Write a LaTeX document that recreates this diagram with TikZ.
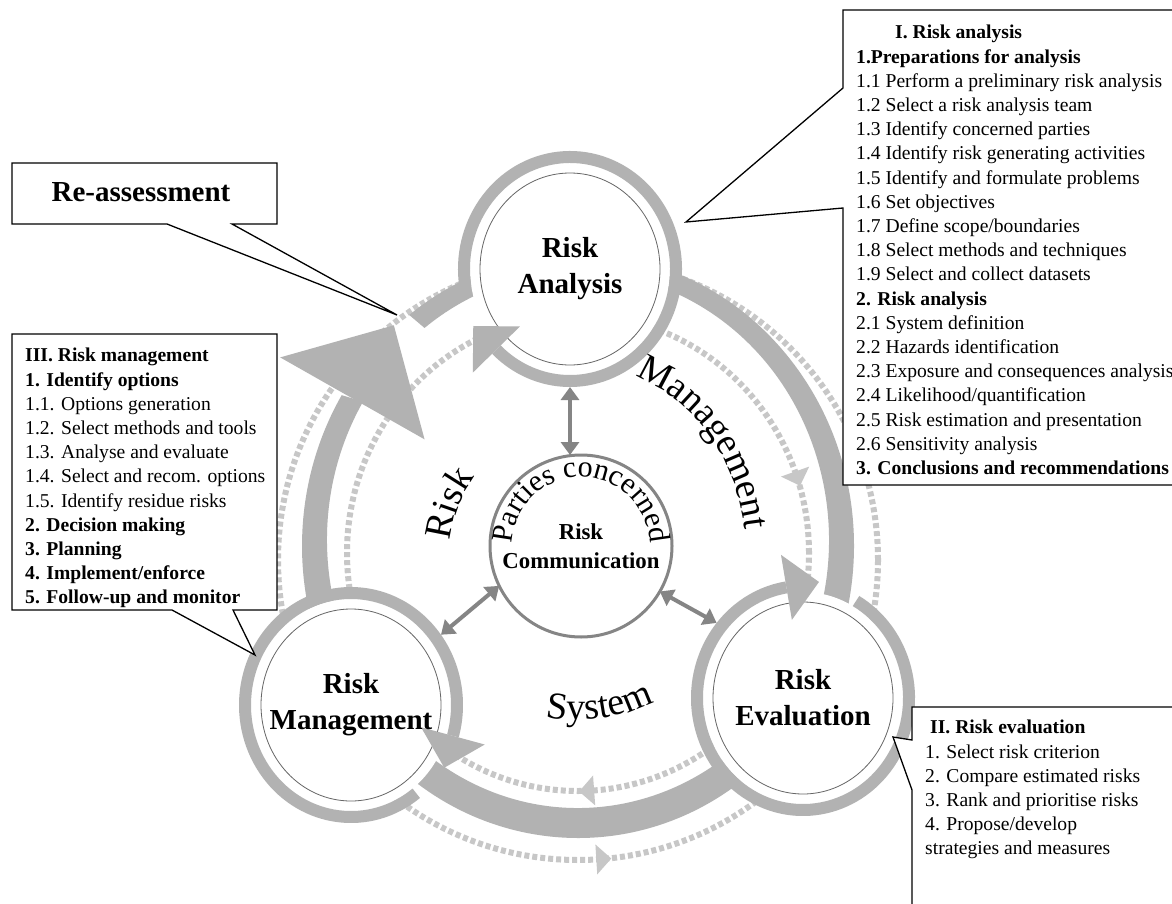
\documentclass[tikz,border=0pt]{standalone}
\usepackage{fontspec}
\setmainfont{Liberation Serif}
\usetikzlibrary{arrows.meta,calc,decorations.text,shapes.geometric}

\definecolor{bandgray}{gray}{0.70}
\definecolor{dotgray}{gray}{0.78}
\definecolor{arrgray}{gray}{0.52}
\definecolor{thingray}{gray}{0.40}

% arrowhead on an ellipse: cx cy rx ry angle dir halfbase length colour
\newcommand\ahead[9]{%
  \pgfmathsetmacro\AHx{#1+(#3)*cos(#5)}%
  \pgfmathsetmacro\AHy{#2+(#4)*sin(#5)}%
  \pgfmathsetmacro\AHtx{-(#6)*(#3)/100*sin(#5)}%
  \pgfmathsetmacro\AHty{(#6)*(#4)/100*cos(#5)}%
  \pgfmathsetmacro\AHn{sqrt((\AHtx)*(\AHtx)+(\AHty)*(\AHty))}%
  \pgfmathsetmacro\AHux{(\AHtx)/(\AHn)}%
  \pgfmathsetmacro\AHuy{(\AHty)/(\AHn)}%
  \fill[#9] ({\AHx-(#7)*(\AHuy)},{\AHy+(#7)*(\AHux)}) -- ({\AHx+(#7)*(\AHuy)},{\AHy-(#7)*(\AHux)}) -- ({\AHx+(#8)*(\AHux)},{\AHy+(#8)*(\AHuy)}) -- cycle;
}
% ring of a stage: cx cy start end
\newcommand\stagering[4]{%
  \fill[white] (#1,#2) ellipse[x radius=100, y radius=106];
  \draw[thingray, line width=0.8pt] (#1,#2) ellipse[x radius=90, y radius=96];
  \draw[bandgray, line width=12pt] ($(#1,#2)+(#3:106 and 112)$) arc[start angle=#3, end angle=#4, x radius=106, y radius=112];
  \ahead{#1}{#2}{106}{112}{#4}{-1}{33}{33}{bandgray}
}
\newcommand\wordfont{\fontsize{38}{38}\selectfont}
\newcommand\pcfont{\fontsize{30}{30}\selectfont}

\tikzset{
  dotline/.style={dotgray, line width=6pt, dash pattern=on 5pt off 3pt},
  stage/.style={ellipse, minimum width=224pt, minimum height=236pt, inner sep=0pt, outer sep=0pt},
  stagetext/.style={font=\fontsize{29}{36}\selectfont\bfseries, align=center, inner sep=0pt},
  hub/.style={circle, draw=arrgray, line width=3pt, minimum size=182pt, inner sep=0pt, outer sep=0pt,
     font=\fontsize{22.8}{29}\selectfont\bfseries, align=center},
  dbl/.style={arrgray, line width=4pt, {Triangle[length=13pt,width=18pt]}-{Triangle[length=13pt,width=18pt]}},
  callout/.style={draw=black, line width=1.3pt, fill=white, line join=miter},
  boxtext/.style={font=\fontsize{19.6}{24.2}\selectfont, align=left, inner sep=0pt, anchor=north west},
}

\begin{document}
\begin{tikzpicture}[x=1pt,y=1pt]
\useasboundingbox (0,-904) rectangle (1172,0);
\fill[white] (0,-904) rectangle (1172,0);

\coordinate (cRA) at (570,-269);
\coordinate (cRM) at (351,-705);
\coordinate (cRE) at (803,-698);
\coordinate (cRC) at (581,-546);

% dotted cycles
\draw[dotline] (578,-560) circle[radius=300];
\draw[dotline] (578,-553) ellipse[x radius=231, y radius=238];

% thick band
\fill[bandgray] ($(578,-546)+(127.7:276 and 292)$) arc[start angle=127.7, end angle=-211.1, x radius=276, y radius=292]
   -- ($(578,-540)+(-211.1:251 and 268)$) arc[start angle=-211.1, end angle=127.7, x radius=251, y radius=268] -- cycle;
\ahead{578}{-543}{263.5}{280}{148.9}{-1}{83}{84}{bandgray}

% dotted arrowheads
\ahead{578}{-560}{300}{300}{-86.5}{1}{15}{15}{dotgray}
\ahead{578}{-553}{231}{238}{-86}{-1}{15}{15}{dotgray}
\ahead{578}{-553}{231}{238}{20}{-1}{15}{15}{dotgray}

% stages
\stagering{570}{-269}{-171}{-494}
\stagering{351}{-705}{-52}{-376}
\stagering{803}{-698}{60}{-261}

\node[stage] (RA) at (cRA) {};
\node[stage] (RM) at (cRM) {};
\node[stage] (RE) at (cRE) {};
\node[stagetext] (RAt) at (cRA) {Risk\\Analysis};
\node[stagetext] (RMt) at (cRM) {Risk\\Management};
\node[stagetext] (REt) at (cRE) {Risk\\Evaluation};
\node[hub] (RC) at (cRC) {Risk\\Communication};

% double arrows
\draw[dbl] (RA.south) -- (RA.south |- RC.north);
\draw[dbl] (RC.206.8) -- (RM.38.9);
\draw[dbl] (RC.-30) -- (RE.139.8);

% curved words
\path[decorate, decoration={text along path, text align=center, text={|\pcfont|Parties concerned}}]
  ($(cRC)+(188:69)$) arc[start angle=188, end angle=-8, radius=69];
\path[decorate, decoration={text along path, text align=center, text={|\wordfont|Risk}}]
  ($(578,-553)+(-180:128)$) arc[start angle=-180, end angle=-222, radius=128];
\path[decorate, decoration={text along path, text align=center, text={|\wordfont|Management}}]
  ($(578,-553)+(76:168 and 188)$) arc[start angle=76, end angle=2, x radius=168, y radius=188];
\path[decorate, decoration={text along path, text align=center, text={|\wordfont|System}}]
  ($(578,-553)+(-106:167)$) arc[start angle=-106, end angle=-58, radius=167];

% callouts
\coordinate (tipRe) at (397,-315);
\coordinate (tipI) at (686,-222);
\coordinate (tipII) at (893,-737);
\coordinate (tipIII) at (255,-655);

\draw[callout] (12,-163) -- (277,-163) -- (277,-224) -- (232,-224) -- (tipRe) -- (167,-224) -- (12,-224) -- cycle;
\node[font=\fontsize{29}{34}\selectfont\bfseries, inner sep=0pt] (reas) at (141,-192) {Re-assessment};

\draw[callout] (843,-10) -- (1180,-10) -- (1180,-485) -- (843,-485) -- (843,-208) -- (tipI) -- (843,-88) -- cycle;
\node[boxtext] (boxI) at (856,-25) {\hspace*{39pt}\textbf{I. Risk analysis}\\
\textbf{1.Preparations for analysis}\\
1.1 Perform a preliminary risk analysis\\
1.2 Select a risk analysis team\\
1.3 Identify concerned parties\\
1.4 Identify risk generating activities\\
1.5 Identify and formulate problems\\
1.6 Set objectives\\
1.7 Define scope/boundaries\\
1.8 Select methods and techniques\\
1.9 Select and collect datasets\\
\textbf{2. Risk analysis}\\
2.1 System definition\\
2.2 Hazards identification\\
2.3 Exposure and consequences analysis\\
2.4 Likelihood/quantification\\
2.5 Risk estimation and presentation\\
2.6 Sensitivity analysis\\
\textbf{3. Conclusions and recommendations}};

\draw[callout] (12,-334) -- (277,-334) -- (277,-610) -- (233,-610) -- (tipIII) -- (172,-610) -- (12,-610) -- cycle;
\node[boxtext] (boxIII) at (25,-348) {\textbf{III. Risk management}\\
\textbf{1. Identify options}\\
1.1. Options generation\\
1.2. Select methods and tools\\
1.3. Analyse and evaluate\\
1.4. Select and recom. options\\
1.5. Identify residue risks\\
\textbf{2. Decision making}\\
\textbf{3. Planning}\\
\textbf{4. Implement/enforce}\\
\textbf{5. Follow-up and monitor}};

\draw[callout] (912,-707) -- (1180,-707) -- (1180,-910) -- (912,-910) -- (912,-790) -- (tipII) -- (912,-740) -- cycle;
\node[boxtext] (boxII) at (925,-720) {\hspace*{5pt}\textbf{II. Risk evaluation}\\
1. Select risk criterion\\
2. Compare estimated risks\\
3. Rank and prioritise risks\\
4. Propose/develop\\
strategies and measures};
\end{tikzpicture}
\end{document}
